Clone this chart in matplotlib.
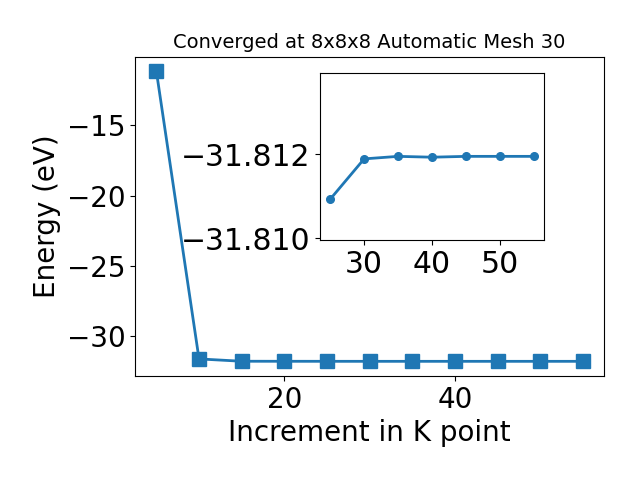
import matplotlib
matplotlib.use('Agg')
import matplotlib.pyplot as plt

# k-point increments and total energies (eV)
kpoints = [5, 10, 15, 20, 25, 30, 35, 40, 45, 50, 55]
energy = [-11.13, -31.64, -31.806, -31.809, -31.81093, -31.81189,
          -31.81195, -31.81193, -31.81195, -31.81195, -31.81195]

# zoomed region for the inset
kpoints_zoom = [25, 30, 35, 40, 45, 50, 55]
energy_zoom = [-31.81093, -31.81189, -31.81195, -31.81193,
               -31.81195, -31.81195, -31.81195]

fig, ax = plt.subplots(figsize=(6.4, 4.8), dpi=100)
plt.subplots_adjust(left=0.211, right=0.944, bottom=0.217, top=0.882)

ax.plot(kpoints, energy, 's-', color='#1f77b4', markersize=10, linewidth=2)
ax.set_xlabel('Increment in K point', fontsize=20)
ax.set_ylabel('Energy (eV)', fontsize=20)
ax.set_title('Converged at 8x8x8 Automatic Mesh 30', fontsize=14)
ax.tick_params(labelsize=20)

# inset with the converged tail
axin = fig.add_axes([0.5, 0.5, 0.35, 0.3485])
axin.plot(kpoints_zoom, energy_zoom, 'o-', color='#1f77b4', markersize=5.5, linewidth=2)
axin.set_ylim(-31.80996, -31.81394)
axin.set_yticks([-31.812, -31.810])
axin.tick_params(labelsize=21.5)

fig.savefig('out.png', dpi=100)
